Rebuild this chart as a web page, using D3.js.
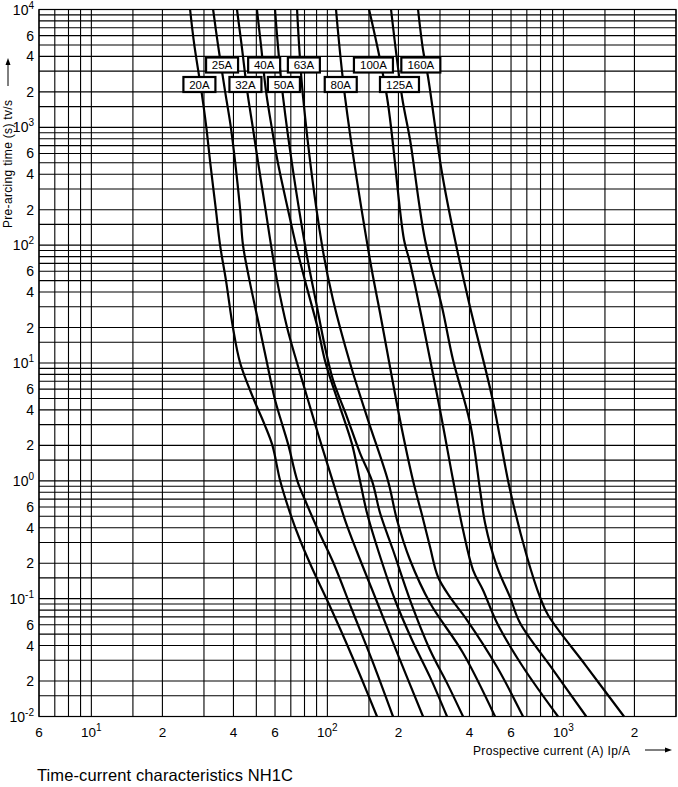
<!DOCTYPE html>
<html><head><meta charset="utf-8">
<script src="https://cdn.jsdelivr.net/npm/d3@7"></script>
<style>body{margin:0;background:#fff}svg{display:block}text{font-family:Arial,"Liberation Sans",sans-serif;fill:#000}</style>
</head><body><div id="chart"></div>
<script>
// ratings (curve labels)
const ratings = ["20A","25A","32A","40A","50A","63A","80A","100A","125A","160A"];
// each curve: [prospective current (A), pre-arcing time (s)]
const c20 = [[26.2,1e4],[27.3,5000],[29.3,2000],[30.7,1000],[31.9,500],[33.7,200],[35.1,100],[37.2,50],[39.8,20],[42.7,10],[48.6,5],[54.2,3],[58.5,2],[63.1,1],[69.5,0.533],[76.6,0.3145],[86.1,0.182],[99.7,0.0974],[118.8,0.0446],[140.3,0.0204],[162.3,0.01]];
const c25 = [[32.8,1e4],[34.4,5000],[36.9,2000],[39.0,1000],[40.7,500],[42.7,200],[43.9,100],[46.8,50],[51.6,20],[55.5,10],[59.8,5],[64.4,3],[68.4,2],[74.6,1],[80.4,0.687],[91.3,0.3825],[105.7,0.2046],[127.2,0.0801],[154.6,0.0301],[189.7,0.01]];
const c32 = [[41.4,1e4],[43.3,5000],[45.8,2000],[48.3,1000],[50.9,500],[54.7,200],[57.7,100],[61.2,50],[67.5,20],[74.4,10],[82.4,5],[88.9,3],[94.5,2],[105.3,1],[118.8,0.465],[133.6,0.2488],[159.2,0.1033],[199.3,0.0332],[254.3,0.01]];
const c40 = [[50.3,1e4],[52.3,5000],[55.0,2000],[58.1,1000],[61.7,500],[68.1,200],[73.6,100],[80.4,50],[90.9,20],[98.3,10],[109.9,5],[119.8,3],[127.6,2],[137.5,1],[147.2,0.533],[163.9,0.2588],[193.5,0.0974],[228.4,0.0446],[272.3,0.0216],[321.4,0.01]];
const c50 = [[60.0,1e4],[64.9,1808],[80.4,100],[90.4,29.9],[97.7,13.7],[105.7,7.17],[121.1,3.48],[137.5,1.72],[154.6,1.0],[167.2,0.533],[189.7,0.2588],[224.0,0.0974],[272.3,0.0367],[321.4,0.0192],[375.7,0.01]];
const c63 = [[74.4,1e4],[78.9,1808],[94.9,100],[105.7,34.2],[124.7,10],[148.7,3.28],[180.7,1.0],[197.3,0.465],[224.0,0.2128],[272.3,0.0918],[375.7,0.0346],[513.3,0.01]];
const c80 = [[108.8,1e4],[118.8,1808],[151.6,74.8],[167.2,26.6],[203.2,3.28],[230.7,1.0],[251.8,0.513],[272.3,0.274],[294.4,0.1527],[331.0,0.103],[390.5,0.0659],[523.5,0.0263],[674.6,0.01]];
const c100 = [[150.2,1e4],[178.9,1808],[211.3,110.6],[224.1,70.6],[300.1,3.99],[340.8,1.016],[375.7,0.382],[414.2,0.175],[456.7,0.118],[523.5,0.0621],[674.6,0.0263],[949,0.01]];
const c125 = [[186.1,1e4],[207.2,1808],[224.1,780],[259.3,110.6],[306,29.9],[340.8,10.6],[402.2,3.10],[443.6,0.836],[465.6,0.439],[523.5,0.186],[594.3,0.103],[655.2,0.0621],[904,0.0249],[1250,0.01]];
const c160 = [[242.2,1e4],[254.3,4532],[267,2674],[306,410],[347.5,110.6],[402.2,29.9],[498.6,5.14],[594.3,0.836],[701.5,0.226],[796.2,0.103],[860.8,0.0726],[1247,0.0269],[1807,0.01]];
const curves = [c20,c25,c32,c40,c50,c63,c80,c100,c125,c160];

// axis ticks
const xTickValues = [6,10,20,40,60,100,200,400,600,1000,2000];
const xTickMant = ["6","10","2","4","6","10","2","4","6","10","2"];
const xTickExp  = ["","1","","","","2","","","","3",""];
const yTickValues = [1e4,6000,4000,2000,1000,600,400,200,100,60,40,20,10,6,4,2,1,0.6,0.4,0.2,0.1,0.06,0.04,0.02,0.01];
const yTickMant = ["10","6","4","2","10","6","4","2","10","6","4","2","10","6","4","2","10","6","4","2","10","6","4","2","10"];
const yTickExp  = ["4","","","","3","","","","2","","","","1","","","","0","","","","-1","","","","-2"];
const gridMultipliers = [1,1.5,2,3,4,5,6,7,8,9];

const W = 678, H = 787;
const svg = d3.select("#chart").append("svg").attr("width",W).attr("height",H);
svg.append("rect").attr("width",W).attr("height",H).attr("fill","#fff");

const x = d3.scaleLog().domain([6,3000]).range([39,676]);
const y = d3.scaleLog().domain([0.01,1e4]).range([716.5,9.5]);

// grid
const g = svg.append("g");
const xGrid = [], yGrid = [];
for (let e=0;e<=3;e++) gridMultipliers.forEach(m=>{const v=m*Math.pow(10,e); if(v>=6&&v<=3000) xGrid.push(v);});
for (let e=-2;e<=4;e++) gridMultipliers.forEach(m=>{const v=m*Math.pow(10,e); if(v>=0.01&&v<=1e4+1) yGrid.push(v);});
g.selectAll("line.vx").data(xGrid).enter().append("line")
  .attr("x1",d=>x(d)).attr("x2",d=>x(d)).attr("y1",y(1e4)).attr("y2",y(0.01))
  .attr("stroke","#000").attr("stroke-width",1.1);
g.selectAll("line.hy").data(yGrid).enter().append("line")
  .attr("y1",d=>y(d)).attr("y2",d=>y(d)).attr("x1",x(6)).attr("x2",x(3000))
  .attr("stroke","#000").attr("stroke-width",1.1);

// curves
const line = d3.line().x(d=>x(d[0])).y(d=>y(d[1])).curve(d3.curveCatmullRom.alpha(0.5));
svg.append("g").selectAll("path").data(curves).enter().append("path")
  .attr("d",line).attr("fill","none").attr("stroke","#000").attr("stroke-width",2.2);

// labels on curves (two rows)
function xAtY(c, py){
  for(let i=0;i<c.length-1;i++){
    const y0=y(c[i][1]), y1=y(c[i+1][1]);
    if(py>=y0 && py<=y1){const t=(py-y0)/(y1-y0); return x(c[i][0])+(x(c[i+1][0])-x(c[i][0]))*t;}
  }
  return x(c[0][0]);
}
const labelNudge = [-1,1,-1,1,2,3,-3,-7,-1,-5];
const lab = svg.append("g");
ratings.forEach((r,i)=>{
  const rowY = (i%2===0) ? 84.5 : 65;
  const cx = xAtY(curves[i], rowY) + labelNudge[i];
  const w = r.length===3 ? 32 : 39;
  lab.append("rect").attr("x",cx-w/2).attr("y",rowY-7.5).attr("width",w).attr("height",15)
    .attr("fill","#fff").attr("stroke","#000").attr("stroke-width",2.2);
  lab.append("text").attr("x",cx).attr("y",rowY+4).attr("text-anchor","middle")
    .attr("font-size",11.5).text(r);
});

// frame
svg.append("rect").attr("x",x(6)).attr("y",y(1e4)).attr("width",x(3000)-x(6)).attr("height",y(0.01)-y(1e4))
  .attr("fill","none").attr("stroke","#000").attr("stroke-width",1.2);

// y tick labels
const yl = svg.append("g");
yTickValues.forEach((v,i)=>{
  const t = yl.append("text").attr("x",34).attr("y",y(v)+5).attr("text-anchor","end").attr("font-size",14);
  t.append("tspan").text(yTickMant[i]);
  if (yTickExp[i]) t.append("tspan").attr("dy",-6).attr("font-size",10).text(yTickExp[i]);
});
// x tick labels
const xl = svg.append("g");
xTickValues.forEach((v,i)=>{
  const t = xl.append("text").attr("x",x(v)).attr("y",737).attr("text-anchor","middle").attr("font-size",13.5);
  t.append("tspan").text(xTickMant[i]);
  if (xTickExp[i]) t.append("tspan").attr("dy",-6).attr("font-size",10).text(xTickExp[i]);
});

// axis titles
svg.append("text").attr("x",473).attr("y",755).attr("font-size",12).attr("textLength",157).text("Prospective current (A) Ip/A");
svg.append("line").attr("x1",645).attr("x2",668).attr("y1",750).attr("y2",750).attr("stroke","#000").attr("stroke-width",1);
svg.append("path").attr("d","M672,750 L665,747.5 L665,752.5 Z").attr("fill","#000");
svg.append("text").attr("transform","translate(12,228) rotate(-90)").attr("font-size",12).attr("textLength",128).text("Pre-arcing time (s) tv/s");
svg.append("line").attr("x1",8).attr("x2",8).attr("y1",86).attr("y2",62).attr("stroke","#000").attr("stroke-width",1);
svg.append("path").attr("d","M8,58 L5.5,65 L10.5,65 Z").attr("fill","#000");
svg.append("text").attr("x",37).attr("y",781).attr("font-size",16.5).attr("textLength",256).text("Time-current characteristics NH1C");
</script>
</body></html>
